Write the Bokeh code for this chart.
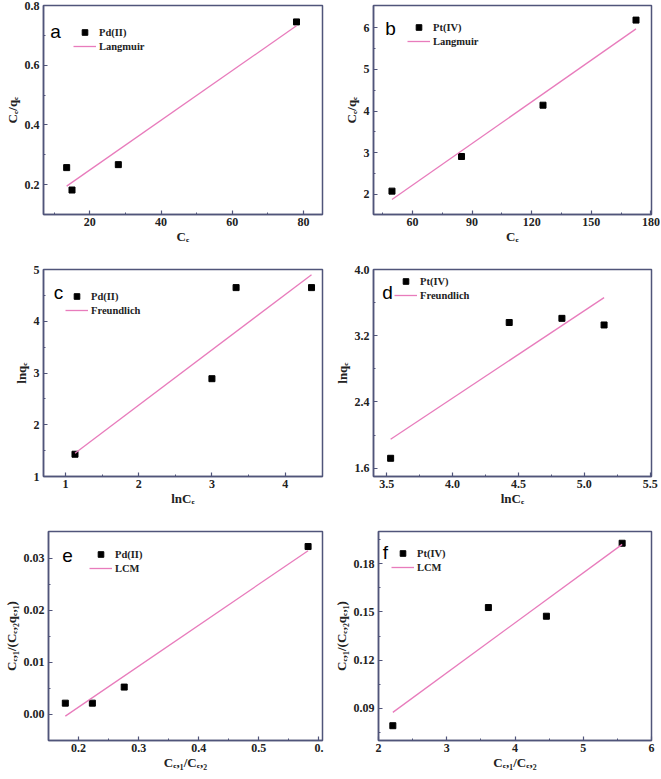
from bokeh.plotting import figure
from bokeh.models import Range1d, FixedTicker, Legend, LegendItem, Label, PrintfTickFormatter
from bokeh.layouts import column, row
from bokeh.embed import file_html
from bokeh.resources import INLINE

# ---------------- data ----------------
# (a) Langmuir, Pd(II)
a_x = [13.5, 15.0, 28.0, 78.0]
a_y = [0.257, 0.182, 0.267, 0.745]
a_fit_x = [13.5, 78.0]
a_fit_y = [0.195, 0.732]
# (b) Langmuir, Pt(IV)
b_x = [49.7, 84.7, 125.7, 172.5]
b_y = [2.08, 2.91, 4.14, 6.18]
b_fit_x = [49.7, 172.5]
b_fit_y = [1.88, 5.97]
# (c) Freundlich, Pd(II)
c_x = [1.13, 3.00, 3.33, 4.36]
c_y = [1.43, 2.89, 4.65, 4.65]
c_fit_x = [1.13, 4.36]
c_fit_y = [1.45, 4.90]
# (d) Freundlich, Pt(IV)
d_x = [3.53, 4.43, 4.83, 5.15]
d_y = [1.72, 3.36, 3.41, 3.33]
d_fit_x = [3.53, 5.15]
d_fit_y = [1.95, 3.66]
# (e) LCM, Pd(II)
e_x = [0.178, 0.223, 0.276, 0.582]
e_y = [0.0021, 0.0021, 0.0052, 0.0323]
e_fit_x = [0.178, 0.582]
e_fit_y = [-0.0004, 0.0315]
# (f) LCM, Pt(IV)
f_x = [2.21, 3.61, 4.46, 5.57]
f_y = [0.0792, 0.1527, 0.1473, 0.1927]
f_fit_x = [2.21, 5.57]
f_fit_y = [0.0875, 0.192]

# tick values
a_xticks = [20, 40, 60, 80]
a_xminor = [10, 30, 50, 70]
a_yticks = [0.2, 0.4, 0.6, 0.8]
a_yminor = [0.3, 0.5, 0.7]
b_xticks = [60, 90, 120, 150, 180]
b_xminor = [45, 75, 105, 135, 165]
b_yticks = [2, 3, 4, 5, 6]
b_yminor = [2.5, 3.5, 4.5, 5.5]
c_xticks = [1, 2, 3, 4]
c_xminor = [1.5, 2.5, 3.5]
c_yticks = [1, 2, 3, 4, 5]
c_yminor = [1.5, 2.5, 3.5, 4.5]
d_xticks = [3.5, 4.0, 4.5, 5.0, 5.5]
d_xminor = [3.75, 4.25, 4.75, 5.25]
d_yticks = [1.6, 2.4, 3.2, 4.0]
d_yminor = [2.0, 2.8, 3.6]
e_xticks = [0.2, 0.3, 0.4, 0.5, 0.6]
e_xminor = [0.25, 0.35, 0.45, 0.55]
e_yticks = [0.0, 0.01, 0.02, 0.03]
e_yminor = [0.005, 0.015, 0.025]
f_xticks = [2, 3, 4, 5, 6]
f_xminor = [2.5, 3.5, 4.5, 5.5]
f_yticks = [0.09, 0.12, 0.15, 0.18]
f_yminor = [0.075, 0.105, 0.135, 0.165, 0.195]

# ---------------- styling ----------------
AXIS_COLOR = "#50557a"
LINE_COLOR = "#e87cbc"
SERIF = "Liberation Serif"
SANS = "Liberation Sans"

LEFT_COL = dict(width=330, L=43, R=8)
RIGHT_COL = dict(width=330, L=43, R=9)
ROWS = [dict(height=262, T=5, B=48), dict(height=262, T=7, B=48), dict(height=254, T=7, B=38)]


def panel(col, rw, xr, yr, xs, ys, fx, fy, xt, xm, yt, ym, xlabel, ylabel,
          series, fitname, letter, letter_off, legend_off, xfmt=None, yfmt=None,
          xover=None):
    p = figure(width=col["width"], height=rw["height"], output_backend="svg",
               toolbar_location=None, x_range=Range1d(*xr), y_range=Range1d(*yr),
               min_border_left=col["L"], min_border_right=col["R"],
               min_border_top=rw["T"], min_border_bottom=rw["B"])
    fh = rw["height"] - rw["T"] - rw["B"]
    p.grid.visible = False
    p.background_fill_color = "white"
    p.border_fill_color = "white"
    p.outline_line_color = AXIS_COLOR
    p.outline_line_width = 1.5
    p.outline_line_alpha = 1.0
    p.xaxis.ticker = FixedTicker(ticks=xt, minor_ticks=xm)
    p.yaxis.ticker = FixedTicker(ticks=yt, minor_ticks=ym)
    if xfmt:
        p.xaxis.formatter = PrintfTickFormatter(format=xfmt)
    if yfmt:
        p.yaxis.formatter = PrintfTickFormatter(format=yfmt)
    if xover:
        p.xaxis.major_label_overrides = xover
    for ax in (p.xaxis[0], p.yaxis[0]):
        ax.axis_line_color = AXIS_COLOR
        ax.axis_line_width = 1.5
        ax.major_tick_line_color = AXIS_COLOR
        ax.minor_tick_line_color = AXIS_COLOR
        ax.major_tick_line_width = 1.2
        ax.minor_tick_line_width = 1.0
        ax.major_tick_in = 4
        ax.major_tick_out = 0
        ax.minor_tick_in = 2
        ax.minor_tick_out = 0
        ax.major_label_text_font = SERIF
        ax.major_label_text_font_size = "12px"
        ax.major_label_text_font_style = "bold"
        ax.major_label_text_color = "#222222"
        ax.axis_label_text_font = SERIF
        ax.axis_label_text_font_size = "13px"
        ax.axis_label_text_font_style = "bold"
        ax.axis_label_text_color = "#222222"
    p.xaxis.major_label_standoff = 3
    p.xaxis.axis_label_standoff = 0
    p.yaxis.major_label_standoff = 4
    p.yaxis.axis_label_standoff = 2
    p.xaxis.axis_label = xlabel
    p.yaxis.axis_label = ylabel

    pts = p.scatter(xs, ys, marker="square", size=6, color="black")
    fit = p.line(fx, fy, line_color=LINE_COLOR, line_width=1.3)

    lx, ly = legend_off
    leg = Legend(items=[LegendItem(label=series, renderers=[pts]),
                        LegendItem(label=fitname, renderers=[fit])],
                 location=(lx, fh - (ly - 7) - 28),
                 glyph_width=23, glyph_height=14, label_height=14,
                 label_standoff=3, spacing=0, padding=0, margin=0,
                 border_line_color=None, background_fill_alpha=0,
                 label_text_font=SERIF, label_text_font_size="10.5px",
                 label_text_font_style="bold", label_text_color="#222222")
    p.add_layout(leg)

    ox, oy = letter_off
    p.add_layout(Label(x=ox, y=fh - oy, x_units="screen", y_units="screen", text=letter,
                       text_font=SANS, text_font_size="19px",
                       text_align="center", text_baseline="middle", text_color="black"))
    return p


pa = panel(LEFT_COL, ROWS[0], (7, 85.3), (0.1, 0.8), a_x, a_y, a_fit_x, a_fit_y,
           a_xticks, a_xminor, a_yticks, a_yminor, "Cₑ", "Cₑ/qₑ",
           "Pd(II)", "Langmuir", "a", (12, 26), (30, 27))
pb = panel(RIGHT_COL, ROWS[0], (40.4, 180.3), (1.52, 6.53), b_x, b_y, b_fit_x, b_fit_y,
           b_xticks, b_xminor, b_yticks, b_yminor, "Cₑ", "Cₑ/qₑ",
           "Pt(IV)", "Langmuir", "b", (17, 23), (34, 22))
pc = panel(LEFT_COL, ROWS[1], (0.7, 4.51), (1, 5), c_x, c_y, c_fit_x, c_fit_y,
           c_xticks, c_xminor, c_yticks, c_yminor, "lnCₑ", "lnqₑ",
           "Pd(II)", "Freundlich", "c", (15, 23), (22, 27))
pd_ = panel(RIGHT_COL, ROWS[1], (3.4, 5.51), (1.5, 4.0), d_x, d_y, d_fit_x, d_fit_y,
            d_xticks, d_xminor, d_yticks, d_yminor, "lnCₑ", "lnqₑ",
            "Pt(IV)", "Freundlich", "d", (14, 23), (21, 12), xfmt="%.1f", yfmt="%.1f")
pe = panel(LEFT_COL, ROWS[2], (0.15, 0.606), (-0.0051, 0.0352), e_x, e_y, e_fit_x, e_fit_y,
           e_xticks, e_xminor, e_yticks, e_yminor, "Cₑ,₁/Cₑ,₂", "Cₑ,₁/(Cₑ,₂qₑ,₁)",
           "Pd(II)", "LCM", "e", (19, 24), (41, 23), xfmt="%.1f", yfmt="%.2f",
           xover={0.6: "0."})
pf = panel(RIGHT_COL, ROWS[2], (2, 6), (0.07, 0.2), f_x, f_y, f_fit_x, f_fit_y,
           f_xticks, f_xminor, f_yticks, f_yminor, "Cₑ,₁/Cₑ,₂", "Cₑ,₁/(Cₑ,₂qₑ,₁)",
           "Pt(IV)", "LCM", "f", (7, 21), (13, 22), yfmt="%.2f")

layout = column(row(pa, pb), row(pc, pd_), row(pe, pf), spacing=0)

open("out.html", "w").write(file_html(layout, INLINE))
